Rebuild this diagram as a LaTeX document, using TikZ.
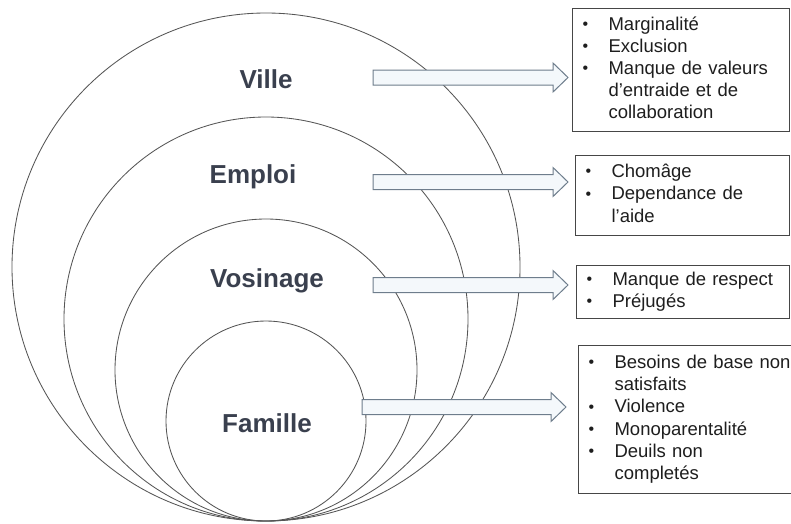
\documentclass[tikz,border=0pt]{standalone}
\usepackage{fontspec}
\setmainfont{Liberation Sans}
\usetikzlibrary{calc}

\definecolor{ringc}{RGB}{85,85,85}
\definecolor{labelc}{RGB}{58,64,78}
\definecolor{arrowline}{RGB}{110,125,140}
\definecolor{arrowfill}{RGB}{244,248,251}
\definecolor{boxline}{RGB}{70,70,70}
\definecolor{boxtext}{RGB}{30,30,30}

% hollow block arrow from a start coordinate to a tip coordinate
\newcommand\blockarrow[2]{%
  \draw[blockarr]
    ($(#1)+(0,-7.5)$) -- ($(#2)+(-15,-7.5)$) -- ($(#2)+(-15,-14.5)$) --
    (#2) --
    ($(#2)+(-15,14.5)$) -- ($(#2)+(-15,7.5)$) -- ($(#1)+(0,7.5)$) -- cycle;}

% small list bullet, lifted to the middle of the lower-case letters
\newcommand\bul{\raisebox{0.9pt}{\fontsize{16}{16}\selectfont •}}

% bullet list laid out as a two-column table
\newenvironment{bullets}{\begin{tabular}{@{}p{26pt}@{}l@{}}}{\end{tabular}}

\begin{document}
\begin{tikzpicture}[x=1pt,y=-1pt,
  ring/.style={circle, draw=ringc, line width=0.85pt, inner sep=0pt},
  level/.style={anchor=base, text=labelc, font=\bfseries\fontsize{26}{31}\selectfont},
  blockarr/.style={draw=arrowline, fill=arrowfill, line width=1pt, line join=miter},
  listbox/.style={draw=boxline, line width=1.1pt, fill=white, anchor=north west,
    inner xsep=10pt, inner ysep=0pt, align=left, text=boxtext,
    font=\fontsize{18.5}{22.2}\selectfont}]
\useasboundingbox (0,0) rectangle (791,523);
\clip (0,0) rectangle (791,523);

% nested circles, all touching at the bottom
\node[ring, minimum size=508pt] (ville)   at (266,267) {};
\node[ring, minimum size=404pt] (emploi)  at (266,319) {};
\node[ring, minimum size=302pt] (vois)    at (266,370) {};
\node[ring, minimum size=200pt] (famille) at (266,421) {};

% level names
\node[level] (lville)   at (266,88)  {Ville};
\node[level] (lemploi)  at (253,183) {Emploi};
\node[level] (lvois)    at (267,287) {Vosinage};
\node[level] (lfamille) at (267,432) {Famille};

% consequence boxes
\node[listbox, text width=197pt, minimum height=123pt] (b1) at (572,8) {%
  \begin{bullets}
  \bul & Marginalité\\
  \bul & Exclusion\\
  \bul & Manque de valeurs\\
    & d’entraide et de\\
    & collaboration
  \end{bullets}};
\node[listbox, text width=194pt, minimum height=80pt] (b2) at (575,155) {%
  \begin{bullets}
  \bul & Chomâge\\
  \bul & Dependance de\\
    & l’aide
  \end{bullets}};
\node[listbox, text width=193pt, minimum height=53pt] (b3) at (576,265) {%
  \begin{bullets}
  \bul & Manque de respect\\
  \bul & Préjugés
  \end{bullets}};
\node[listbox, text width=212pt, minimum height=148pt] (b4) at (578,345) {%
  \begin{bullets}
  \bul & Besoins de base non\\
    & satisfaits\\
  \bul & Violence\\
  \bul & Monoparentalité\\
  \bul & Deuils non\\
    & completés
  \end{bullets}};

% arrows from each level to its box
\coordinate (s1) at (373,77.5);
\coordinate (s2) at (373,182);
\coordinate (s3) at (373,285);
\coordinate (s4) at (362,407);
\coordinate (t1) at ($(b1.west |- s1)+(-4,0)$);
\coordinate (t2) at ($(b2.west |- s2)+(-7,0)$);
\coordinate (t3) at ($(b3.west |- s3)+(-8,0)$);
\coordinate (t4) at ($(b4.west |- s4)+(-12,0)$);
\blockarrow{s1}{t1}
\blockarrow{s2}{t2}
\blockarrow{s3}{t3}
\blockarrow{s4}{t4}
\end{tikzpicture}
\end{document}
